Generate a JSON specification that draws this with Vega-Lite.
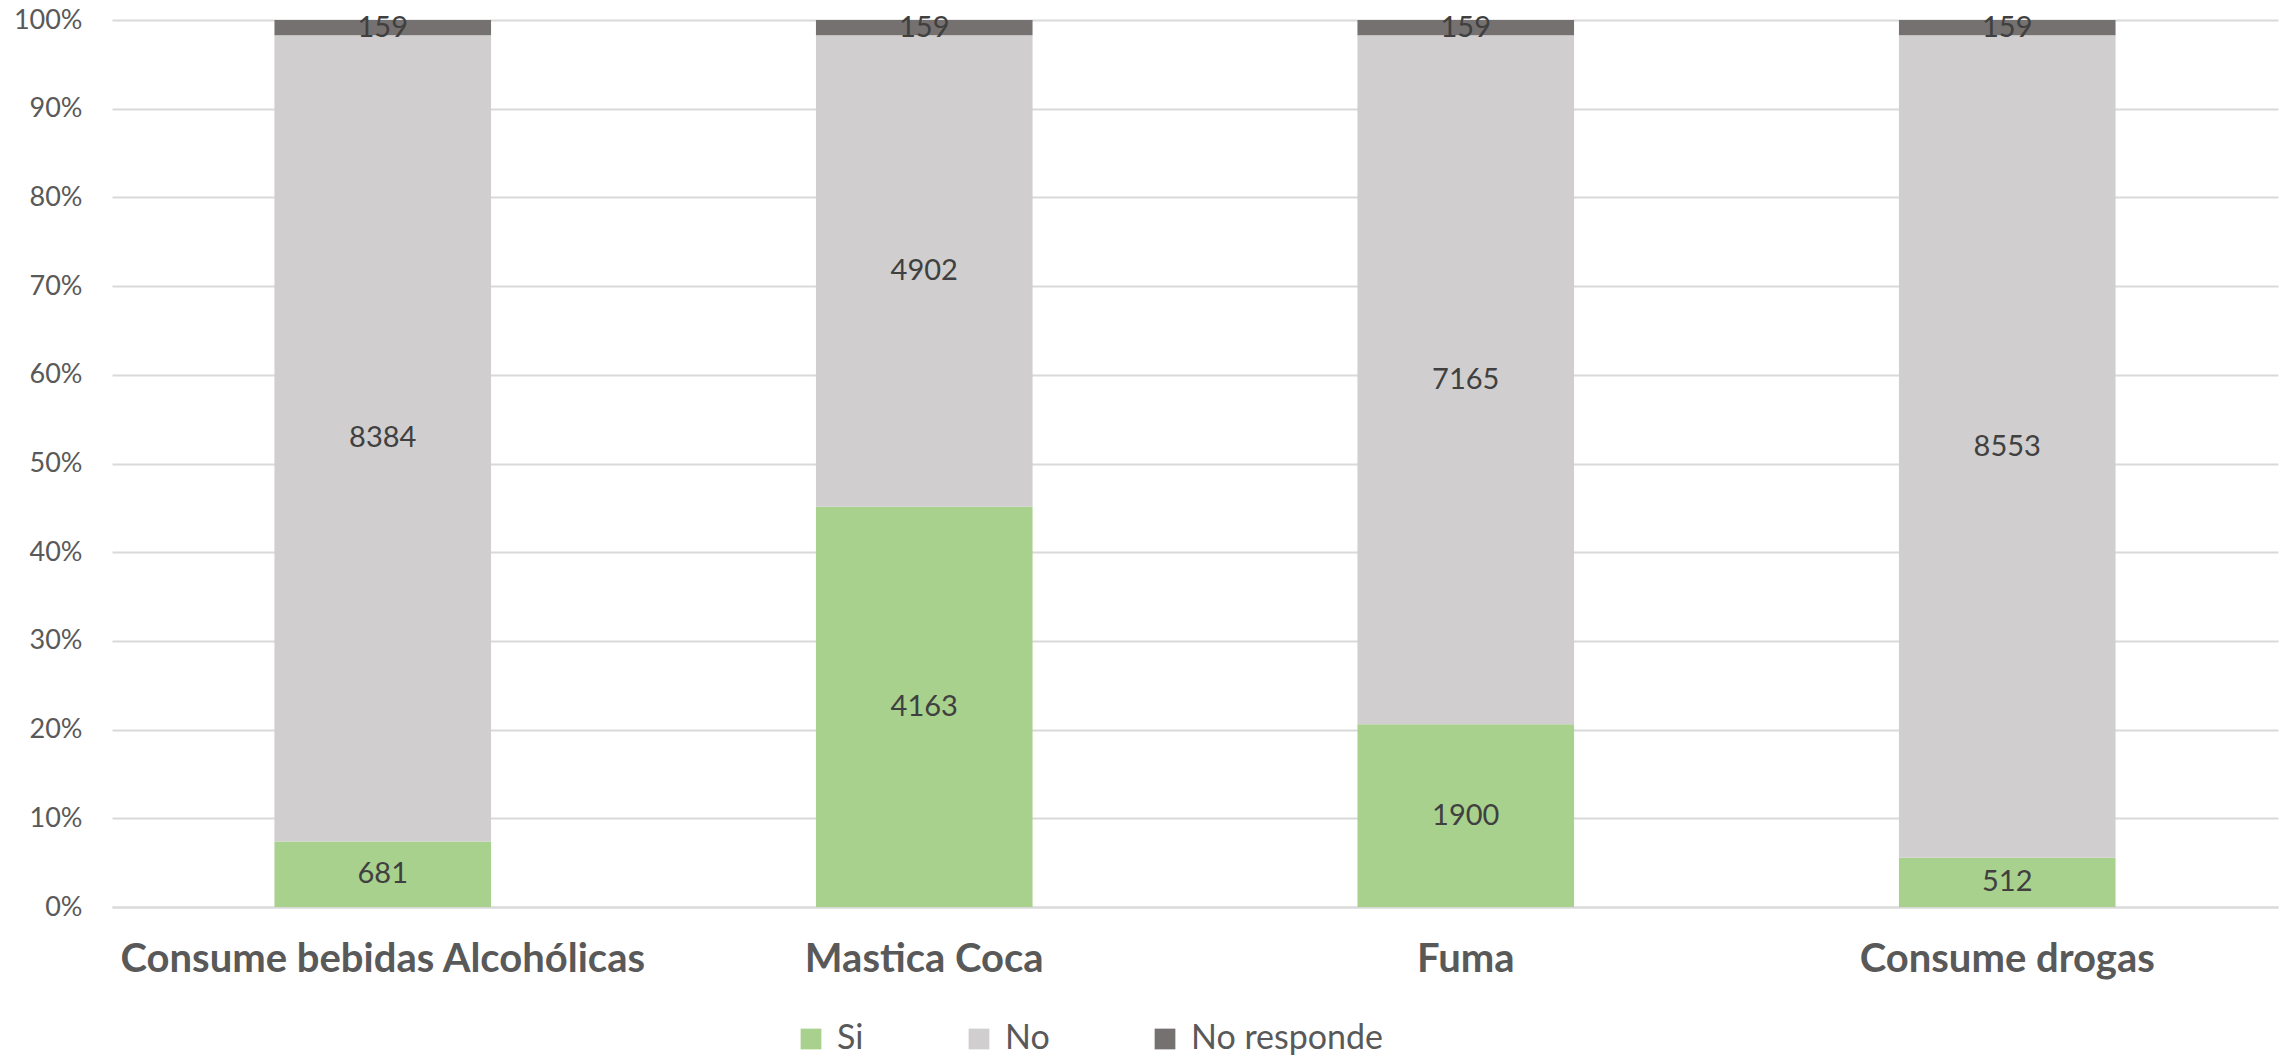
{
  "$schema": "https://vega.github.io/schema/vega-lite/v6.json",
  "autosize": {"type": "none"},
  "padding": {"left": 112, "top": 20, "right": 6, "bottom": 152},
  "width": 2166,
  "height": 887,
  "background": "white",
  "config": {"view": {"stroke": null}, "font": "Lato"},
  "data": {"values": [
    {"cat": "Consume bebidas Alcohólicas", "tipo": "Si", "k": 1, "n": 681},
    {"cat": "Consume bebidas Alcohólicas", "tipo": "No", "k": 2, "n": 8384},
    {"cat": "Consume bebidas Alcohólicas", "tipo": "No responde", "k": 3, "n": 159},
    {"cat": "Mastica Coca", "tipo": "Si", "k": 1, "n": 4163},
    {"cat": "Mastica Coca", "tipo": "No", "k": 2, "n": 4902},
    {"cat": "Mastica Coca", "tipo": "No responde", "k": 3, "n": 159},
    {"cat": "Fuma", "tipo": "Si", "k": 1, "n": 1900},
    {"cat": "Fuma", "tipo": "No", "k": 2, "n": 7165},
    {"cat": "Fuma", "tipo": "No responde", "k": 3, "n": 159},
    {"cat": "Consume drogas", "tipo": "Si", "k": 1, "n": 512},
    {"cat": "Consume drogas", "tipo": "No", "k": 2, "n": 8553},
    {"cat": "Consume drogas", "tipo": "No responde", "k": 3, "n": 159}
  ]},
  "transform": [
    {"stack": "n", "groupby": ["cat"], "sort": [{"field": "k", "order": "ascending"}], "offset": "normalize", "as": ["y0", "y1"]}
  ],
  "encoding": {
    "x": {
      "field": "cat", "type": "nominal", "sort": null,
      "scale": {"paddingInner": 0.6, "paddingOuter": 0.3},
      "axis": {
        "title": null, "labelAngle": 0, "labelFont": "Lato", "labelFontSize": 40, "labelFontWeight": "bold",
        "labelColor": "#595959", "labelPadding": 32, "labelLimit": 0, "ticks": false, "domain": true, "domainColor": "#D9D9D9", "domainWidth": 2
      }
    }
  },
  "layer": [
    {
      "mark": {"type": "bar"},
      "encoding": {
        "y": {
          "field": "y0", "type": "quantitative",
          "scale": {"domain": [0, 1], "nice": false},
          "axis": {
            "title": null, "format": ".0%", "values": [0, 0.1, 0.2, 0.3, 0.4, 0.5, 0.6, 0.7, 0.8, 0.9, 1],
            "labelFont": "Lato", "labelFontSize": 27, "labelColor": "#595959", "labelPadding": 30,
            "ticks": false, "domain": false, "grid": true, "gridColor": "#D9D9D9", "gridWidth": 2
          }
        },
        "y2": {"field": "y1"},
        "color": {
          "field": "tipo", "type": "nominal",
          "scale": {"domain": ["Si", "No", "No responde"], "range": ["#A9D18E", "#D0CECE", "#767171"]},
          "legend": {
            "title": null, "orient": "none", "legendX": 682, "legendY": 1002, "direction": "horizontal", "symbolType": "square", "symbolSize": 430,
            "symbolStrokeWidth": 0, "labelFont": "Lato", "labelFontSize": 34, "labelColor": "#595959", "labelLimit": 500,
            "columnPadding": 98, "labelOffset": 9
          }
        }
      }
    },
    {
      "transform": [
        {"fold": ["y0", "y1"], "as": ["edge", "pos"]},
        {"aggregate": [{"op": "mean", "field": "pos", "as": "mid"}], "groupby": ["cat", "tipo", "n"]}
      ],
      "mark": {"type": "text", "font": "Lato", "fontSize": 29, "color": "#404040", "baseline": "middle", "align": "center"},
      "encoding": {
        "y": {"field": "mid", "type": "quantitative"},
        "text": {"field": "n", "type": "quantitative", "format": "d"}
      }
    }
  ]
}
